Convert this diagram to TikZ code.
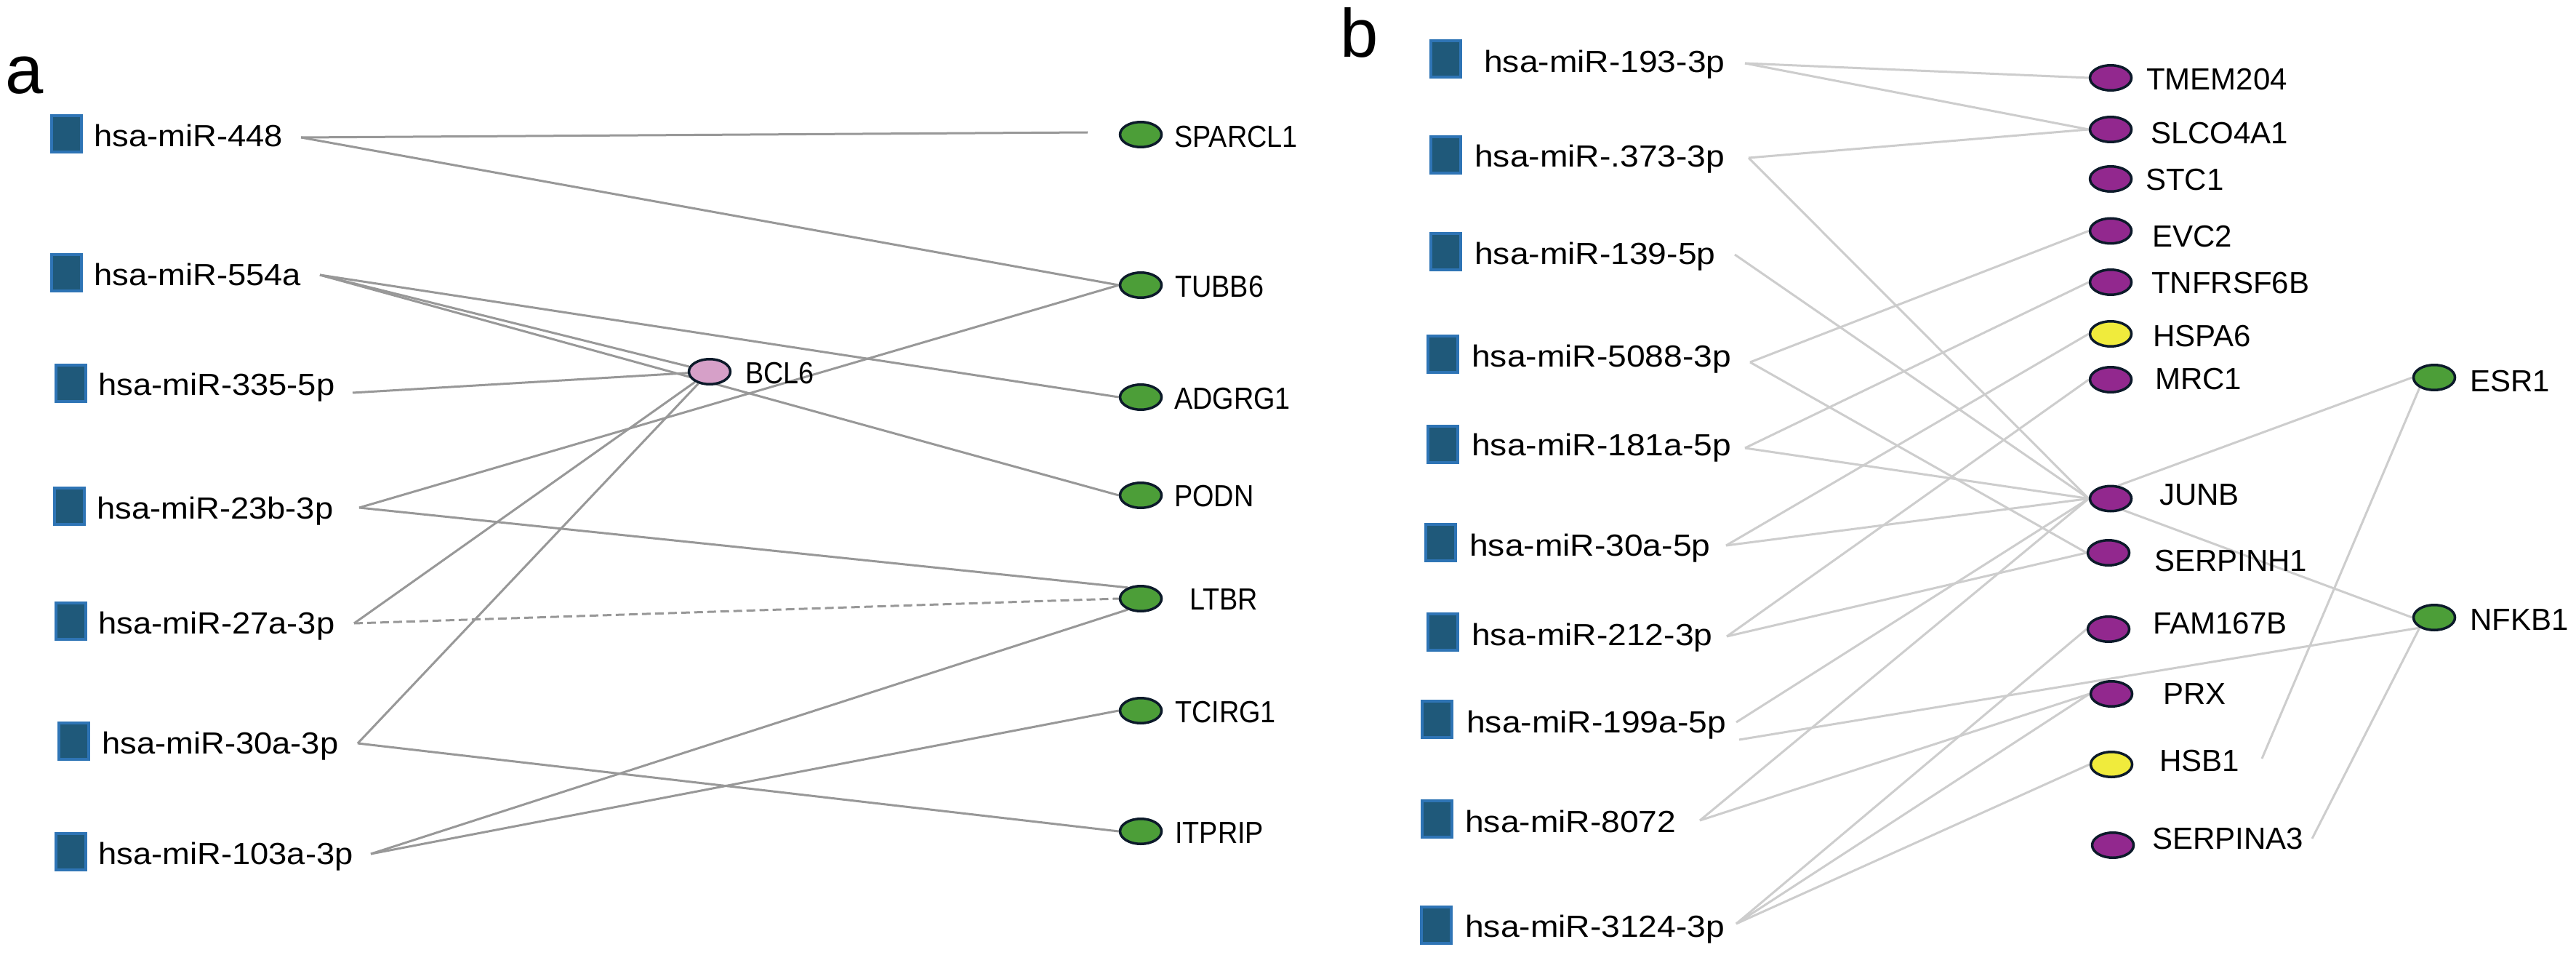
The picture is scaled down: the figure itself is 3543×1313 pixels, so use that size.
\documentclass[tikz,border=0pt]{standalone}
\usepackage{fontspec}
\setmainfont{Liberation Sans}
\newfontfamily\lfa[FakeStretch=1.08]{Liberation Sans}
\newfontfamily\lfb[FakeStretch=1.10]{Liberation Sans}
\newfontfamily\rfa[FakeStretch=0.90]{Liberation Sans}
\usetikzlibrary{backgrounds,shapes.geometric}
\definecolor{sqfill}{RGB}{31,89,122}
\definecolor{sqedge}{RGB}{46,116,181}
\definecolor{gnode}{RGB}{76,158,56}
\definecolor{pnode}{RGB}{146,40,142}
\definecolor{ynode}{RGB}{240,235,60}
\definecolor{knode}{RGB}{214,160,200}
\definecolor{ellline}{RGB}{12,26,42}
\definecolor{edgea}{RGB}{152,152,152}
\definecolor{edgeb}{RGB}{205,205,205}
\begin{document}
\begin{tikzpicture}[x=1pt,y=-1pt,
  sq/.style={draw=sqedge, fill=sqfill, line width=4pt, minimum width=41pt, minimum height=50pt, inner sep=0pt},
  gene/.style={ellipse, draw=ellline, line width=3.5pt, minimum width=57pt, minimum height=34.5pt, inner sep=0pt},
  gg/.style={gene, fill=gnode},
  gp/.style={gene, fill=pnode},
  gy/.style={gene, fill=ynode},
  gk/.style={gene, fill=knode},
  lla/.style={anchor=base west, inner sep=0pt, font=\lfa\fontsize{42}{50}\selectfont},
  llb/.style={anchor=base west, inner sep=0pt, font=\lfb\fontsize{42}{50}\selectfont},
  rla/.style={anchor=base west, inner sep=0pt, font=\rfa\fontsize{42}{50}\selectfont},
  rl/.style={anchor=base west, inner sep=0pt, font=\fontsize{42}{50}\selectfont},
  panel/.style={anchor=base west, inner sep=0pt, font=\fontsize{94}{100}\selectfont},
  ea/.style={draw=edgea, line width=3pt},
  eb/.style={draw=edgeb, line width=3pt}
]
\useasboundingbox (0,0) rectangle (3543,1313);

% panel labels
\node[panel] (pA) at (7,129) {a};
\node[panel] (pB) at (1843,79) {b};

% ---------- panel a : miRNAs ----------
\node[sq] (sa1) at (91.5,184) {};
\node[sq] (sa2) at (91.5,375) {};
\node[sq] (sa3) at (97,527) {};
\node[sq] (sa4) at (95.5,696) {};
\node[sq] (sa5) at (97,854) {};
\node[sq] (sa6) at (101.5,1019) {};
\node[sq] (sa7) at (97,1171) {};
\node[lla] (ta1) at (129,202) {hsa-miR-448};
\node[lla] (ta2) at (129,392) {hsa-miR-554a};
\node[lla] (ta3) at (135,543) {hsa-miR-335-5p};
\node[lla] (ta4) at (133,713) {hsa-miR-23b-3p};
\node[lla] (ta5) at (135,871) {hsa-miR-27a-3p};
\node[lla] (ta6) at (140,1036) {hsa-miR-30a-3p};
\node[lla] (ta7) at (135,1188) {hsa-miR-103a-3p};

% ---------- panel a : genes ----------
\node[gg] (sparcl1) at (1569,185) {};
\node[gg] (tubb6) at (1569,392) {};
\node[gk] (bcl6) at (976,511) {};
\node[gg] (adgrg1) at (1569,546) {};
\node[gg] (podn) at (1569,681) {};
\node[gg] (ltbr) at (1569,823) {};
\node[gg] (tcirg1) at (1569,977) {};
\node[gg] (itprip) at (1569,1143) {};
\node[rla] (lsparcl1) at (1615,203) {SPARCL1};
\node[rla] (ltubb6) at (1616,408) {TUBB6};
\node[rla] (lbcl6) at (1025,527) {BCL6};
\node[rla] (ladgrg1) at (1615,562) {ADGRG1};
\node[rla] (lpodn) at (1615,696.5) {PODN};
\node[rla] (lltbr) at (1636,838) {LTBR};
\node[rla] (ltcirg1) at (1616,993) {TCIRG1};
\node[rla] (litprip) at (1616,1159.5) {ITPRIP};

% ---------- panel b : miRNAs ----------
\node[sq] (sb1) at (1988,81) {};
\node[sq] (sb2) at (1988,213) {};
\node[sq] (sb3) at (1988,346) {};
\node[sq] (sb4) at (1984,487) {};
\node[sq] (sb5) at (1984,611) {};
\node[sq] (sb6) at (1981,746) {};
\node[sq] (sb7) at (1984,869) {};
\node[sq] (sb8) at (1976.5,989) {};
\node[sq] (sb9) at (1976,1126) {};
\node[sq] (sb10) at (1975,1272) {};
\node[llb] (tb1) at (2041,100) {hsa-miR-193-3p};
\node[llb] (tb2) at (2028,230) {hsa-miR-.373-3p};
\node[llb] (tb3) at (2028,363) {hsa-miR-139-5p};
\node[llb] (tb4) at (2024,504) {hsa-miR-5088-3p};
\node[llb] (tb5) at (2024,626) {hsa-miR-181a-5p};
\node[llb] (tb6) at (2021,764) {hsa-miR-30a-5p};
\node[llb] (tb7) at (2024,887) {hsa-miR-212-3p};
\node[llb] (tb8) at (2017,1007) {hsa-miR-199a-5p};
\node[llb] (tb9) at (2015,1144) {hsa-miR-8072};
\node[llb] (tb10) at (2015,1288.5) {hsa-miR-3124-3p};

% ---------- panel b : genes ----------
\node[gp] (tmem) at (2903,107) {};
\node[gp] (slco) at (2903,178) {};
\node[gp] (stc1) at (2903,246) {};
\node[gp] (evc2) at (2903,317.5) {};
\node[gp] (tnf) at (2903,388) {};
\node[gy] (hspa6) at (2903,459) {};
\node[gp] (mrc1) at (2903,522) {};
\node[gg] (esr1) at (3348,519) {};
\node[gp] (junb) at (2903,685.5) {};
\node[gp] (serh1) at (2900,760) {};
\node[gp] (fam) at (2900,865) {};
\node[gp] (prx) at (2904,954) {};
\node[gy] (hsb1) at (2904,1051) {};
\node[gp] (serpa3) at (2906,1162) {};
\node[gg] (nfkb1) at (3348,849) {};
\node[rl] (ltmem) at (2952,123.5) {TMEM204};
\node[rl] (lslco) at (2958,198) {SLCO4A1};
\node[rl] (lstc1) at (2951,262) {STC1};
\node[rl] (levc2) at (2960,340) {EVC2};
\node[rl] (ltnf) at (2959,403) {TNFRSF6B};
\node[rl] (lhspa6) at (2961,476) {HSPA6};
\node[rl] (lmrc1) at (2964,535) {MRC1};
\node[rl] (lesr1) at (3397,538) {ESR1};
\node[rl] (ljunb) at (2970,694) {JUNB};
\node[rl] (lserh1) at (2963,785) {SERPINH1};
\node[rl] (lfam) at (2961,871) {FAM167B};
\node[rl] (lprx) at (2975,968) {PRX};
\node[rl] (lhsb1) at (2970,1060) {HSB1};
\node[rl] (lserpa3) at (2960,1167) {SERPINA3};
\node[rl] (lnfkb1) at (3397,866.5) {NFKB1};

% ---------- connector free ends ----------
\coordinate (pa1) at (414,189);
\coordinate (pa2) at (440,378);
\coordinate (pa3) at (485,540);
\coordinate (pa4) at (494,698);
\coordinate (pa5) at (487,857);
\coordinate (pa6) at (492,1022);
\coordinate (pa7) at (510,1174);
\coordinate (sparend) at (1496,182);
\coordinate (pb1) at (2400,87);
\coordinate (pb2) at (2405,217);
\coordinate (pb3) at (2386,350);
\coordinate (pb4) at (2407,498);
\coordinate (pb5) at (2400,616);
\coordinate (pb6) at (2374,750);
\coordinate (pb7) at (2375,875);
\coordinate (pb8a) at (2388,993);
\coordinate (pb8b) at (2392,1017);
\coordinate (pb9) at (2338,1128);
\coordinate (pb10) at (2388,1270);
\coordinate (hsbend) at (3111,1043);
\coordinate (serpend) at (3180,1153);

\begin{scope}[on background layer]
\fill[white] (0,0) rectangle (3543,1313);
% panel a edges
\draw[ea] (pa1) -- (sparend);
\draw[ea] (pa1) -- (tubb6.west);
\draw[ea] (pa2) -- (adgrg1.west);
\draw[ea] (pa2) -- (bcl6);
\draw[ea] (pa2) -- (podn.west);
\draw[ea] (pa3) -- (bcl6);
\draw[ea] (pa4) -- (tubb6.west);
\draw[ea] (pa4) -- (ltbr.140);
\draw[ea] (pa5) -- (bcl6);
\draw[ea, dash pattern=on 12pt off 6pt] (pa5) -- (ltbr.west);
\draw[ea] (pa6) -- (bcl6);
\draw[ea] (pa6) -- (itprip.west);
\draw[ea] (pa7) -- (ltbr.220);
\draw[ea] (pa7) -- (tcirg1.west);
% panel b edges
\draw[eb] (pb1) -- (tmem.west);
\draw[eb] (pb1) -- (slco.west);
\draw[eb] (pb2) -- (slco.west);
\draw[eb] (pb2) -- (junb.west);
\draw[eb] (pb3) -- (junb.west);
\draw[eb] (pb4) -- (evc2.west);
\draw[eb] (pb4) -- (serh1.west);
\draw[eb] (pb5) -- (tnf.west);
\draw[eb] (pb5) -- (junb.west);
\draw[eb] (pb6) -- (hspa6.west);
\draw[eb] (pb6) -- (junb.west);
\draw[eb] (pb7) -- (mrc1.west);
\draw[eb] (pb7) -- (serh1.west);
\draw[eb] (pb8a) -- (junb.west);
\draw[eb] (pb8b) -- (nfkb1.215);
\draw[eb] (pb9) -- (junb.west);
\draw[eb] (pb9) -- (prx.west);
\draw[eb] (pb10) -- (fam.west);
\draw[eb] (pb10) -- (prx.west);
\draw[eb] (pb10) -- (hsb1.west);
\draw[eb] (junb.60) -- (esr1.west);
\draw[eb] (junb.-43) -- (nfkb1.west);
\draw[eb] (hsbend) -- (esr1.215);
\draw[eb] (serpend) -- (nfkb1.215);
\end{scope}
\end{tikzpicture}
\end{document}
